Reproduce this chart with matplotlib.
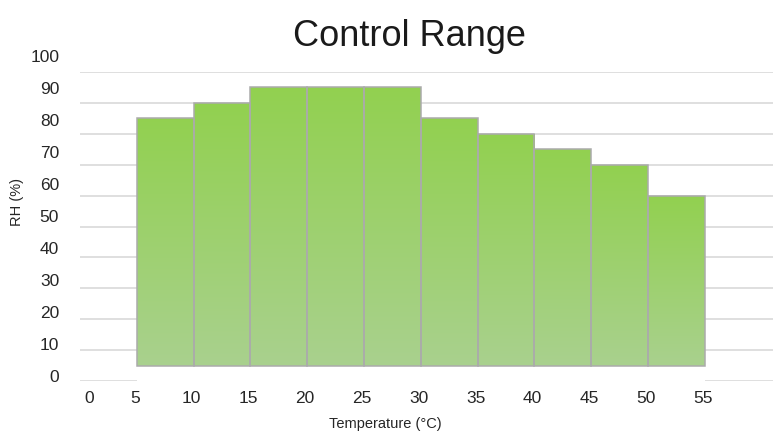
import numpy as np
import matplotlib
matplotlib.use("Agg")
import matplotlib.pyplot as plt
from matplotlib.colors import LinearSegmentedColormap
from matplotlib.transforms import ScaledTranslation

# ---- data ----
temp_start = [5, 10, 15, 20, 25, 30, 35, 40, 45, 50]
bin_width = 5
rh_low = 5
rh_high = [85, 90, 95, 95, 95, 85, 80, 75, 70, 60]
y_ticks = [0, 10, 20, 30, 40, 50, 60, 70, 80, 90, 100]
x_ticks = [0, 5, 10, 15, 20, 25, 30, 35, 40, 45, 50, 55]
title = "Control Range"
xlabel = "Temperature (°C)"
ylabel = "RH (%)"

plt.rcParams['font.family'] = ['Liberation Sans', 'DejaVu Sans']
W, H = 773, 433
fig = plt.figure(figsize=(W / 100, H / 100), dpi=100)

def px(l, t, r, b):
    return [l / W, (H - b) / H, (r - l) / W, (b - t) / H]

ax = fig.add_axes(px(80, 72, 773, 381))
ax.set_xlim(0, 61)
ax.set_ylim(0, 100)
for s in ax.spines.values():
    s.set_visible(False)
ax.set_yticks(y_ticks)
ax.tick_params(axis='y', length=0, labelleft=False)
ax.grid(axis='y', color='#D9D9D9', linewidth=1.2, zorder=0)
ax.set_axisbelow(True)

cmap = LinearSegmentedColormap.from_list('g', ['#A9D18E', '#92D050'])
grad = np.linspace(0, 1, 256).reshape(-1, 1)
x0s = np.array(temp_start)
# white base covering the grid below the bars
base = ax.bar(x0s, rh_low + 1, bottom=-1, width=bin_width, align='edge',
              color='white', linewidth=0, zorder=2)
for p in base:
    p.set_clip_on(False)
for x0, top in zip(x0s, rh_high):
    ax.imshow(grad, extent=[x0, x0 + bin_width, rh_low, top], origin='lower',
              aspect='auto', cmap=cmap, zorder=3, interpolation='bilinear')
ax.bar(x0s, np.array(rh_high) - rh_low, bottom=rh_low, width=bin_width,
       align='edge', fill=False, edgecolor='#ABABAB', linewidth=1.1, zorder=4)
ax.set_xlim(0, 61)
ax.set_ylim(0, 100)

# x tick labels on main axis
ax.set_xticks(x_ticks)
ax.set_xticklabels([str(v) for v in x_ticks])
ax.tick_params(axis='x', length=0, pad=7, labelsize=12.5, labelcolor='#262626')
dx = ScaledTranslation(-2 / 100, 0, fig.dpi_scale_trans)
for i, lab in enumerate(ax.get_xticklabels()):
    if i == 0:
        lab.set_transform(lab.get_transform() + ScaledTranslation(9 / 100, 0, fig.dpi_scale_trans))
    else:
        lab.set_transform(lab.get_transform() + dx)

# y tick label axes (labels spaced as in the reference)
axy = fig.add_axes(px(80, 56, 81, 376))
axy.set_ylim(0, 100)
axy.set_yticks(y_ticks)
axy.set_yticklabels([str(v) for v in y_ticks])
axy.set_xticks([])
axy.tick_params(axis='y', length=0, pad=15, labelsize=12.5, labelcolor='#262626')
axy.patch.set_visible(False)
for s in axy.spines.values():
    s.set_visible(False)

fig.text(409 / W, 1 - 37 / H, title, ha='center', va='center', fontsize=26, color='#1a1a1a')
fig.text(385 / W, 1 - 424 / H, xlabel, ha='center', va='center', fontsize=10.5, color='#262626')
fig.text(17 / W, 1 - 202 / H, ylabel, ha='center', va='center', rotation=90, fontsize=10.5, color='#262626')

fig.savefig('out.png', dpi=100)
